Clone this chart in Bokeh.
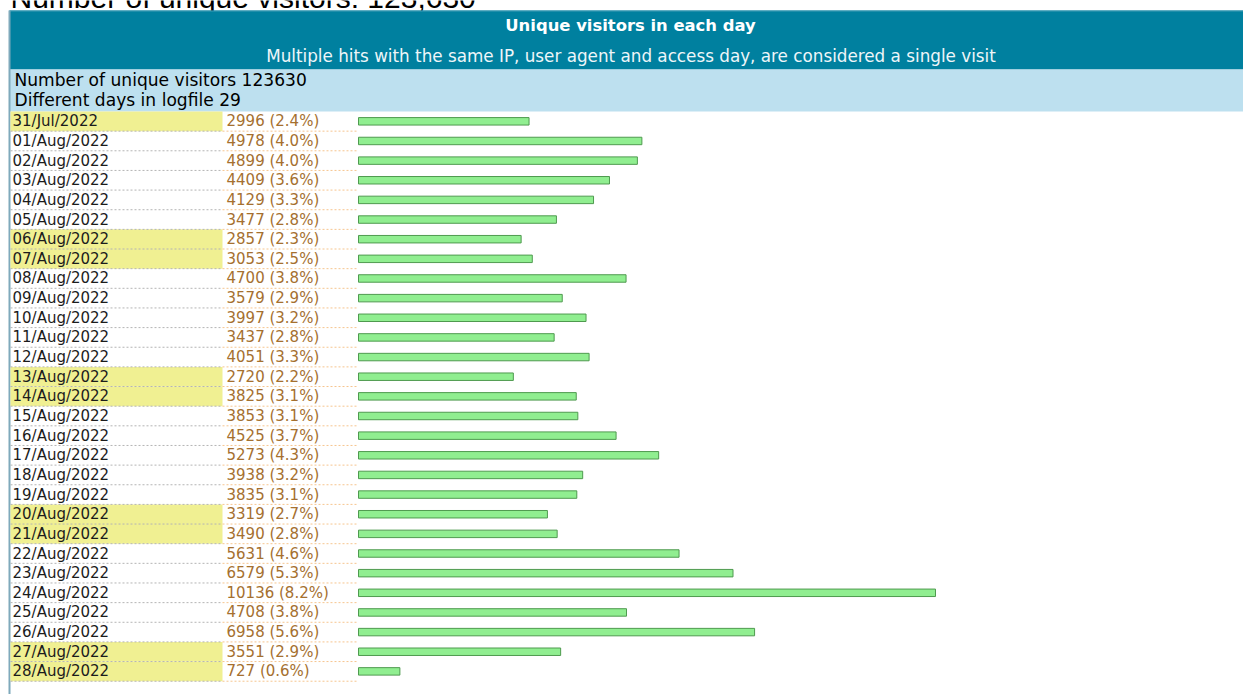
import datetime as dt
import numpy as np
from bokeh.plotting import figure
from bokeh.models import Range1d, ColumnDataSource
from bokeh.core.properties import value
from bokeh.embed import file_html
from bokeh.resources import INLINE

# ---------------- data ----------------
dates = ["31/Jul/2022", "01/Aug/2022", "02/Aug/2022", "03/Aug/2022", "04/Aug/2022",
         "05/Aug/2022", "06/Aug/2022", "07/Aug/2022", "08/Aug/2022", "09/Aug/2022",
         "10/Aug/2022", "11/Aug/2022", "12/Aug/2022", "13/Aug/2022", "14/Aug/2022",
         "15/Aug/2022", "16/Aug/2022", "17/Aug/2022", "18/Aug/2022", "19/Aug/2022",
         "20/Aug/2022", "21/Aug/2022", "22/Aug/2022", "23/Aug/2022", "24/Aug/2022",
         "25/Aug/2022", "26/Aug/2022", "27/Aug/2022", "28/Aug/2022"]
visitors = [2996, 4978, 4899, 4409, 4129, 3477, 2857, 3053, 4700, 3579,
            3997, 3437, 4051, 2720, 3825, 3853, 4525, 5273, 3938, 3835,
            3319, 3490, 5631, 6579, 10136, 4708, 6958, 3551, 727]
total_visitors = 123630
days_in_logfile = 29
page_heading = "Number of unique visitors: 123,630"
title = "Unique visitors in each day"
subtitle = "Multiple hits with the same IP, user agent and access day, are considered a single visit"
info_lines = ["Number of unique visitors %d" % total_visitors,
              "Different days in logfile %d" % days_in_logfile]

# ---------------- derived ----------------
rows = np.arange(len(dates))
labels = ["%d (%.1f%%)" % (v, v / total_visitors * 100) for v in visitors]
weekend = [dt.datetime.strptime(d, "%d/%b/%Y").weekday() >= 5 for d in dates]
src = ColumnDataSource(dict(row=rows, sep=rows + 0.5, date=dates, label=labels,
                            visitors=visitors))
wk_rows = np.array([r for r, w in zip(rows, weekend) if w])

# ---------------- layout constants (pixels) ----------------
W, H = 1243, 694
X0 = 0
ROW_TOP = 111.0
RH = 19.645
BAR_X = 358.0
BAR_PX = 577.0
k = BAR_PX / max(visitors)
FONT = value("DejaVu Sans")

p = figure(width=W, height=H, output_backend="svg", toolbar_location=None,
           x_range=Range1d(X0, X0 + W), y_range=Range1d(H, 0),
           x_axis_location=None, y_axis_location=None, min_border=0,
           outline_line_color=None, background_fill_color="white")
p.grid.visible = False
p.extra_x_ranges = {"val": Range1d((X0 - BAR_X) / k, (X0 + W - BAR_X) / k)}
p.extra_y_ranges = {"row": Range1d((H - ROW_TOP) / RH - 0.5, (0 - ROW_TOP) / RH - 0.5)}

# page heading (clipped at top, as in the original screenshot)
p.text(x=[10], y=[-3], text=[page_heading], text_font=value("Liberation Sans"),
       text_font_size="30px", text_color="black", text_baseline="alphabetic")

# header bands
p.quad(left=9, right=X0 + W, top=10, bottom=69, fill_color="#00809f", line_color=None)
p.quad(left=9, right=X0 + W, top=69, bottom=ROW_TOP, fill_color="#bde0ef", line_color=None)
p.segment(x0=9, x1=X0 + W, y0=10.5, y1=10.5, line_color="#3e9bb5", line_width=1)
p.segment(x0=9, x1=9, y0=10, y1=H, line_color="#7fa9bb", line_width=2)

p.text(x=[630], y=[25], text=[title], text_font=FONT, text_font_style="bold",
       text_font_size="16.4px", text_color="white", text_align="center",
       text_baseline="middle")
p.text(x=[630.5], y=[55], text=[subtitle], text_font=FONT, text_font_size="16.8px",
       text_color="#eef6f9", text_align="center", text_baseline="middle")
p.text(x=[14, 14], y=[79, 99], text=info_lines, text_font=FONT,
       text_font_size="17.1px", text_color="black", text_baseline="middle")

# weekend highlight
p.quad(left=10, right=222, top=wk_rows - 0.5, bottom=wk_rows + 0.5,
       fill_color="#f0f092", line_color=None, y_range_name="row")

# dotted separators
p.segment(x0=10, x1=222, y0="sep", y1="sep", source=src, y_range_name="row",
          line_color="#b4b4b4", line_dash="2 2", line_width=1)
p.segment(x0=222, x1=357, y0="sep", y1="sep", source=src, y_range_name="row",
          line_color="#f6c58f", line_dash="2 2", line_width=1)

# row texts
p.text(x=12, y="row", text="date", source=src, y_range_name="row", text_font=FONT,
       text_font_size="15px", text_color="#1c1c1c", text_baseline="middle")
p.text(x=226, y="row", text="label", source=src, y_range_name="row", text_font=FONT,
       text_font_size="15px", text_color="#a5702f", text_baseline="middle")

# bars
p.hbar(y="row", left=0, right="visitors", height=0.38, source=src,
       x_range_name="val", y_range_name="row",
       fill_color="#90ee90", line_color="#4f9a4f", line_width=1)

open("out.html", "w").write(file_html(p, INLINE))
